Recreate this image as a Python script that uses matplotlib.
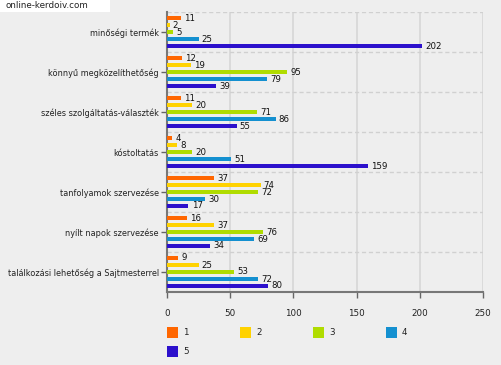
import matplotlib
matplotlib.use("Agg")
import matplotlib.pyplot as plt
from matplotlib.patches import Rectangle
import numpy as np

categories = ["minőségi termék", "könnyű megközelíthetőség", "széles szolgáltatás-választék",
              "kóstoltatás", "tanfolyamok szervezése", "nyílt napok szervezése",
              "találkozási lehetőség a Sajtmesterrel"]
series_names = ["1", "2", "3", "4", "5"]
s1 = [11, 12, 11, 4, 37, 16, 9]
s2 = [2, 19, 20, 8, 74, 37, 25]
s3 = [5, 95, 71, 20, 72, 76, 53]
s4 = [25, 79, 86, 51, 30, 69, 72]
s5 = [202, 39, 55, 159, 17, 34, 80]
series = [s1, s2, s3, s4, s5]
colors = ["#ff6600", "#ffd200", "#b0dc00", "#1490d0", "#2c10cc"]
xticks = [0, 50, 100, 150, 200, 250]

W, H = 501, 365
fig = plt.figure(figsize=(W / 100, H / 100), dpi=100)
fig.patch.set_facecolor("#eeeeee")
ax = fig.add_axes([167 / W, 1 - 292 / H, (483 - 167) / W, (292 - 12) / H])
ax.set_facecolor("#eeeeee")

n = len(categories)
ypos = np.arange(n)
step = 0.175
bh = 0.115
for k, (vals, c) in enumerate(zip(series, colors)):
    yy = ypos + (k - 2) * step
    ax.barh(yy, vals, height=bh, color=c, edgecolor="none", zorder=3)
    for y, v in zip(yy, vals):
        ax.text(v + 2.5, y, str(v), va="center", ha="left", fontsize=6.2, color="#111111", zorder=4)

ax.set_ylim(n - 0.5, -0.5)
ax.set_xlim(0, 250)
ax.set_yticks(ypos)
ax.set_yticklabels(categories, fontsize=5.9, color="#222222")
ax.set_xticks(xticks)
ax.set_xticklabels([str(t) for t in xticks], fontsize=6.3, color="#222222")
ax.tick_params(axis="y", length=4, width=1, color="#666666", pad=2)
ax.tick_params(axis="x", length=4, width=1, color="#666666", pad=8)
for x in xticks[1:]:
    ax.axvline(x, color="#d6d6d6", lw=1.2, zorder=1)
for b in np.arange(-0.5, n - 0.5, 1.0):
    ax.axhline(b, color="#d0d0d0", lw=1, ls=(0, (3, 2)), zorder=1)
for s in ["top", "right"]:
    ax.spines[s].set_visible(False)
ax.spines["left"].set_color("#777777")
ax.spines["left"].set_linewidth(1.5)
ax.spines["bottom"].set_color("#777777")
ax.spines["bottom"].set_linewidth(1.5)

# legend
pos = [(167, 327), (240, 327), (313, 327), (386, 327), (167, 346)]
for (px, py), name, c in zip(pos, series_names, colors):
    fig.patches.append(Rectangle((px / W, 1 - (py + 11) / H), 11 / W, 11 / H,
                                 transform=fig.transFigure, facecolor=c, edgecolor="none"))
    fig.text((px + 16) / W, 1 - (py + 5.5) / H, name, fontsize=6.3, va="center", ha="left", color="#222222")

# watermark
fig.patches.append(Rectangle((0, 1 - 12 / H), 110 / W, 12 / H, transform=fig.transFigure,
                             facecolor="white", edgecolor="none"))
fig.text(5 / W, 1 - 6 / H, "online-kerdoiv.com", fontsize=6.3, va="center", ha="left", color="#222222")

fig.savefig("out.png", dpi=100, facecolor=fig.get_facecolor())
